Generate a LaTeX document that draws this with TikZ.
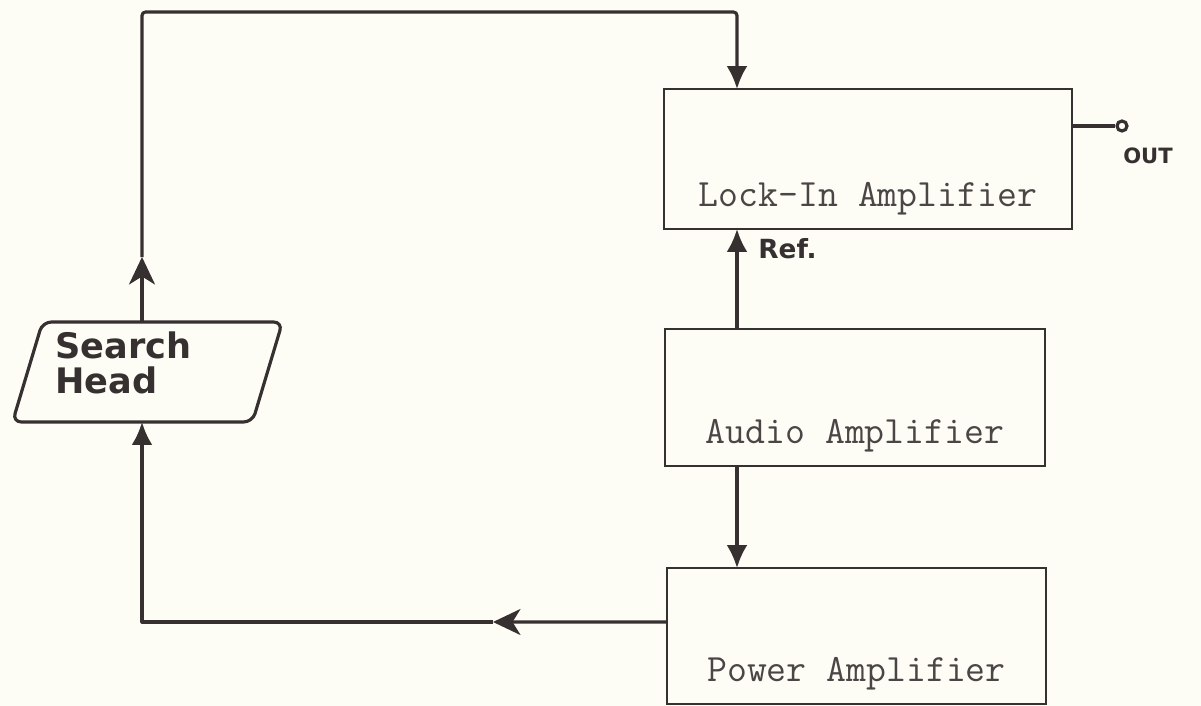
\documentclass[tikz,border=0pt]{standalone}
\usepackage{fontspec}
\newfontfamily\handfont{DejaVu Sans}
\usetikzlibrary{arrows.meta}

\definecolor{ink}{RGB}{55,48,48}
\definecolor{paper}{RGB}{253,253,246}

\tikzset{amp/.style={draw=ink, line width=1pt, inner sep=0pt, outer sep=0pt},
  amptxt/.style={font=\ttfamily\fontsize{22}{24}\selectfont, text=ink!90, anchor=base},
  hand/.style={font=\handfont\bfseries\fontsize{#1}{#1}\selectfont, text=ink, inner sep=0pt},
  wire/.style={draw=ink, line width=1.8pt, line join=round},
  sigarrow/.style={-{Latex[length=4.6mm,width=4.2mm]}},
  midarrow/.style={-{Stealth[length=5.5mm,width=5.2mm,inset=1.6mm]}}}

\begin{document}
\begin{tikzpicture}[x=0.02cm, y=-0.02cm]
  \fill[paper] (0,0) rectangle (1201,706);
  \useasboundingbox (0,0) rectangle (1201,706);
  \coordinate (sig) at (737,0);
  \coordinate (rail) at (142,12);
  \coordinate (upmid) at (142,257);
  \coordinate (backmid) at (493,622);

  % amplifier chain
  \node[amp, minimum width=8.16cm, minimum height=2.8cm] (lock) at (868,159) {};
  \node[amptxt] at ([yshift=0.44cm]lock.south) {Lock-In Amplifier};
  \node[amp, minimum width=7.6cm, minimum height=2.74cm] (audio) at (855,397.5) {};
  \node[amptxt] at ([yshift=0.44cm]audio.south) {Audio Amplifier};
  \node[amp, minimum width=7.58cm, minimum height=2.72cm] (power) at (856.5,636) {};
  \node[amptxt] at ([yshift=0.44cm]power.south) {Power Amplifier};

  % search head (slanted box)
  \node[inner sep=0pt, outer sep=0pt, minimum width=4.8cm, minimum height=2cm] (head) at (147.5,372) {};
  \draw[wire, rounded corners=5pt] ([xshift=0.3cm]head.north west) -- ([xshift=0.3cm]head.north east)
    -- ([xshift=-0.3cm]head.south east) -- ([xshift=-0.3cm]head.south west) -- cycle;
  \node[hand=20, align=left, anchor=north west] (headtxt) at (55,331) {Search\\Head};

  % signal paths
  \draw[wire, midarrow] (head.north -| rail) -- (upmid);
  \draw[wire, sigarrow, rounded corners=2pt] (upmid) -- (rail) -- (rail -| sig) -- (lock.north -| sig);
  \draw[wire, sigarrow] (audio.north -| sig) -- (lock.south -| sig);
  \node[hand=15, anchor=west] (ref) at (758,249) {Ref.};
  \draw[wire, sigarrow] (audio.south -| sig) -- (power.north -| sig);
  \draw[wire, midarrow] ([yshift=0.28cm]power.west) -- (backmid);
  \draw[wire, sigarrow] (backmid) -| (head.south -| rail);

  % output terminal
  \node[circle, draw=ink, line width=1.8pt, minimum size=0.2cm, inner sep=0pt] (term) at (1122,126) {};
  \draw[wire] (lock.east |- term) -- (term.west);
  \node[hand=12] (out) at (1148,156) {OUT};
\end{tikzpicture}
\end{document}
